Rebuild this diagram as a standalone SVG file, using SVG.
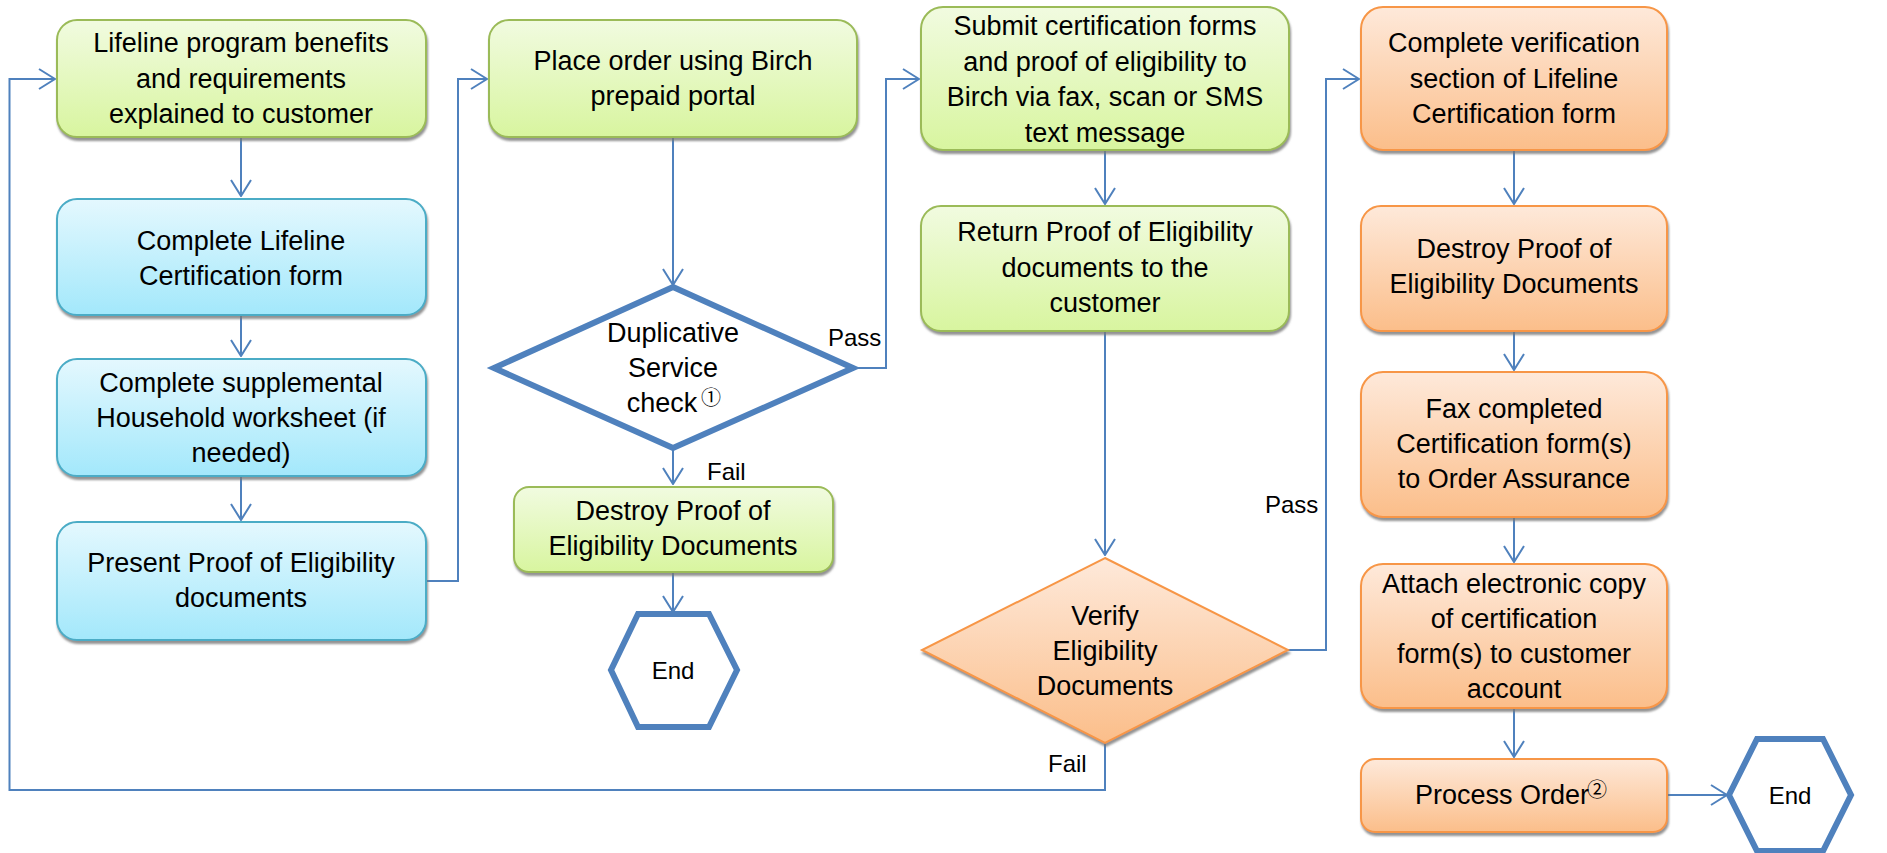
<svg xmlns="http://www.w3.org/2000/svg" width="1887" height="853" viewBox="0 0 1887 853">
<style>
.t{font-family:"Liberation Sans",Arial,sans-serif;font-size:27px;fill:#000;text-anchor:middle}
.lbl{font-family:"Liberation Sans",Arial,sans-serif;font-size:24px;fill:#000}
.end{font-family:"Liberation Sans",Arial,sans-serif;font-size:24px;fill:#000;text-anchor:middle}
.circ{font-family:"Noto Sans CJK JP","DejaVu Sans",sans-serif;font-size:20px;fill:#000}
.g{fill:url(#gG);stroke:#9BBB59;stroke-width:2;filter:url(#sh)}
.b{fill:url(#gB);stroke:#4BACC6;stroke-width:2;filter:url(#sh)}
.o{fill:url(#gO);stroke:#F79646;stroke-width:2;filter:url(#sh)}
.term{fill:#fff;stroke:#4F81BD;stroke-width:6}
.ca{fill:none;stroke:#4F81BD;stroke-width:2;marker-end:url(#ah)}
</style>
<defs>
<linearGradient id="gG" x1="0" y1="0" x2="0" y2="1"><stop offset="0" stop-color="#F1FBE0"/><stop offset="1" stop-color="#D8F59F"/></linearGradient>
<linearGradient id="gB" x1="0" y1="0" x2="0" y2="1"><stop offset="0" stop-color="#E4F8FE"/><stop offset="1" stop-color="#A3E8FB"/></linearGradient>
<linearGradient id="gO" x1="0" y1="0" x2="0" y2="1"><stop offset="0" stop-color="#FEE9DA"/><stop offset="1" stop-color="#FBBE8A"/></linearGradient>
<filter id="sh" x="-5%" y="-5%" width="110%" height="115%"><feDropShadow dx="1" dy="3" stdDeviation="1" flood-color="#777" flood-opacity="0.8"/></filter>
<marker id="ah" viewBox="0 0 18 22" refX="17" refY="11" markerWidth="18" markerHeight="22" markerUnits="userSpaceOnUse" orient="auto"><path d="M1,1 L17,11 L1,21" fill="none" stroke="#4F81BD" stroke-width="2"/></marker>
</defs>
<rect width="1887" height="853" fill="#fff"/>

<g id="connectors">
<path class="ca" d="M241,137 V196"/>
<path class="ca" d="M241,315 V356"/>
<path class="ca" d="M241,476 V520"/>
<path class="ca" d="M426,581 H458 V79 H487"/>
<path class="ca" d="M673,137 V285"/>
<path class="ca" d="M673,450 V484"/>
<path class="ca" d="M673,572 V612"/>
<path class="ca" d="M856,368 H886 V79 H919"/>
<path class="ca" d="M1105,150 V204"/>
<path class="ca" d="M1105,331 V555"/>
<path class="ca" d="M1288,650 H1326 V79 H1359"/>
<path class="ca" d="M1105,743 V790 H9.5 V79 H55"/>
<path class="ca" d="M1514,150 V204"/>
<path class="ca" d="M1514,331 V370"/>
<path class="ca" d="M1514,517 V562"/>
<path class="ca" d="M1514,708 V757"/>
<path class="ca" d="M1667,795 H1727"/>
<text class="lbl" x="828" y="346">Pass</text>
<text class="lbl" x="707" y="480">Fail</text>
<text class="lbl" x="1265" y="513">Pass</text>
<text class="lbl" x="1048" y="772">Fail</text>
</g>

<g id="n1"><rect class="g" x="57" y="20" width="369" height="117" rx="20"/>
<text class="t" x="241" y="52">Lifeline program benefits</text><text class="t" x="241" y="88">and requirements</text><text class="t" x="241" y="123">explained to customer</text></g>
<g id="n2"><rect class="b" x="57" y="199" width="369" height="116" rx="20"/>
<text class="t" x="241" y="250">Complete Lifeline</text><text class="t" x="241" y="285">Certification form</text></g>
<g id="n3"><rect class="b" x="57" y="359" width="369" height="117" rx="20"/>
<text class="t" x="241" y="392">Complete supplemental</text><text class="t" x="241" y="427">Household worksheet (if</text><text class="t" x="241" y="462">needed)</text></g>
<g id="n4"><rect class="b" x="57" y="522" width="369" height="118" rx="20"/>
<text class="t" x="241" y="572">Present Proof of Eligibility</text><text class="t" x="241" y="607">documents</text></g>

<g id="n5"><rect class="g" x="489" y="20" width="368" height="117" rx="20"/>
<text class="t" x="673" y="70">Place order using Birch</text><text class="t" x="673" y="105">prepaid portal</text></g>
<g id="d1"><polygon class="term" points="673,287 853,368 673,448 494,368"/>
<text class="t" x="673" y="342">Duplicative</text><text class="t" x="673" y="377">Service</text>
<text class="t" x="662" y="412">check</text><text class="circ" x="701" y="405">①</text></g>
<g id="n6"><rect class="g" x="514" y="487" width="319" height="85" rx="15"/>
<text class="t" x="673" y="520">Destroy Proof of</text><text class="t" x="673" y="555">Eligibility Documents</text></g>
<g id="e1"><polygon class="term" points="611,670 638,614 709,614 737,670 709,727 638,727"/>
<text class="end" x="673" y="679">End</text></g>

<g id="n7"><rect class="g" x="921" y="7" width="368" height="143" rx="22"/>
<text class="t" x="1105" y="35">Submit certification forms</text><text class="t" x="1105" y="71">and proof of eligibility to</text><text class="t" x="1105" y="106">Birch via fax, scan or SMS</text><text class="t" x="1105" y="142">text message</text></g>
<g id="n8"><rect class="g" x="921" y="206" width="368" height="125" rx="20"/>
<text class="t" x="1105" y="241">Return Proof of Eligibility</text><text class="t" x="1105" y="277">documents to the</text><text class="t" x="1105" y="312">customer</text></g>
<g id="d2"><polygon class="o" points="1105,558 1288,650 1105,743 922,650"/>
<text class="t" x="1105" y="625">Verify</text><text class="t" x="1105" y="660">Eligibility</text><text class="t" x="1105" y="695">Documents</text></g>

<g id="n9"><rect class="o" x="1361" y="7" width="306" height="143" rx="22"/>
<text class="t" x="1514" y="52">Complete verification</text><text class="t" x="1514" y="88">section of Lifeline</text><text class="t" x="1514" y="123">Certification form</text></g>
<g id="n10"><rect class="o" x="1361" y="206" width="306" height="125" rx="20"/>
<text class="t" x="1514" y="258">Destroy Proof of</text><text class="t" x="1514" y="293">Eligibility Documents</text></g>
<g id="n11"><rect class="o" x="1361" y="372" width="306" height="145" rx="22"/>
<text class="t" x="1514" y="418">Fax completed</text><text class="t" x="1514" y="453">Certification form(s)</text><text class="t" x="1514" y="488">to Order Assurance</text></g>
<g id="n12"><rect class="o" x="1361" y="564" width="306" height="144" rx="22"/>
<text class="t" x="1514" y="593">Attach electronic copy</text><text class="t" x="1514" y="628">of certification</text><text class="t" x="1514" y="663">form(s) to customer</text><text class="t" x="1514" y="698">account</text></g>
<g id="n13"><rect class="o" x="1361" y="759" width="306" height="73" rx="14"/>
<text class="t" x="1502" y="804">Process Order</text><text class="circ" x="1587" y="797">②</text></g>
<g id="e2"><polygon class="term" points="1729,795 1757,739 1823,739 1851,795 1823,851 1757,851"/>
<text class="end" x="1790" y="804">End</text></g>
</svg>
